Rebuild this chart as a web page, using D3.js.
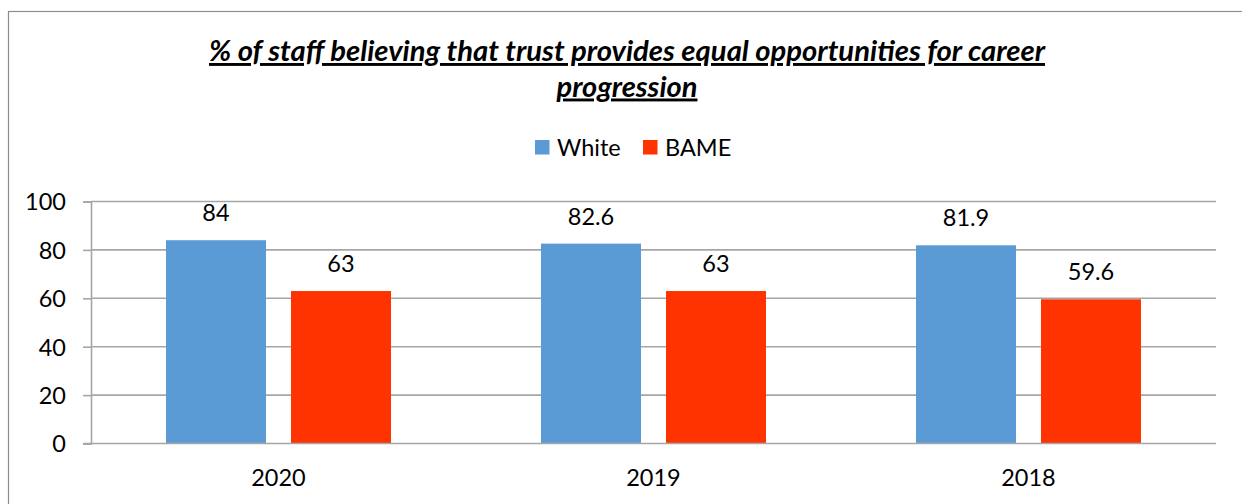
<!DOCTYPE html>
<html>
<head>
<meta charset="utf-8">
<script src="https://cdn.jsdelivr.net/npm/d3@7/dist/d3.min.js"></script>
<style>
  html, body { margin: 0; padding: 0; background: #fff; }
  svg { display: block; font-family: Lato, "Open Sans", sans-serif; }
</style>
</head>
<body>
<svg id="chart" width="1242" height="504"></svg>
<script>
// Survey years and the share of staff (%) in each group
const years = ["2020", "2019", "2018"];
const groups = ["White", "BAME"];
const whiteValues = [84, 82.6, 81.9];
const bameValues = [63, 63, 59.6];
const yTicks = [0, 20, 40, 60, 80, 100];
const titleLines = [
  "% of staff believing that trust provides equal opportunities for career",
  "progression"
];
const colors = { White: "#5b9bd5", BAME: "#ff3300" };

const rows = years.map((y, i) => ({ year: y, White: whiteValues[i], BAME: bameValues[i] }));

const svg = d3.select("#chart");
const W = 1242, H = 504;
const plot = { left: 91, right: 1216, top: 201.5, bottom: 443.5 };
const labelSize = 23.5;

// Outer frame of the chart
svg.append("rect")
  .attr("x", 8.5).attr("y", 11.5)
  .attr("width", W + 20).attr("height", H + 20)
  .attr("fill", "#fff").attr("stroke", "#8c8c8c").attr("stroke-width", 1.2);

// Title, bold italic and underlined; the second line sets the font size
const title = svg.append("g");
const titleTexts = titleLines.map((line, i) => title.append("text")
  .attr("x", 627).attr("y", [61, 96.5][i])
  .attr("text-anchor", "middle")
  .attr("font-size", 20).attr("font-weight", 700).attr("font-style", "italic")
  .attr("text-decoration", "underline")
  .attr("fill", "#000")
  .text(line));
const secondWidth = titleTexts[1].node().getComputedTextLength();
const titleSize = 20 * 141 / secondWidth;
titleTexts.forEach(t => t.attr("font-size", titleSize));
titleTexts[0].attr("textLength", 836).attr("lengthAdjust", "spacingAndGlyphs");

// Legend
const legend = svg.append("g");
const legendItems = [
  { key: "White", sx: 535, tx: 557 },
  { key: "BAME", sx: 643, tx: 665 }
];
legendItems.forEach(d => {
  legend.append("rect").attr("x", d.sx).attr("y", 140).attr("width", 14.5).attr("height", 14.5)
    .attr("fill", colors[d.key]);
  legend.append("text").attr("x", d.tx).attr("y", 155.5)
    .attr("font-size", labelSize).attr("fill", "#000").text(d.key);
});

// Scales
const x0 = d3.scaleBand().domain(years).range([plot.left, plot.right]).paddingInner(0.4).paddingOuter(0.2);
const x1 = d3.scaleBand().domain(groups).range([0, x0.bandwidth()]).paddingInner(0.2);
const y = d3.scaleLinear().domain([0, 100]).range([plot.bottom, plot.top]);

// Horizontal gridlines
svg.append("g")
  .selectAll("line").data(yTicks.filter(v => v > 0)).join("line")
  .attr("x1", plot.left).attr("x2", plot.right)
  .attr("y1", d => y(d)).attr("y2", d => y(d))
  .attr("stroke", "#a6a6a6").attr("stroke-width", 1.6);

// Y axis
const yAxis = svg.append("g")
  .attr("transform", `translate(${plot.left},0)`)
  .call(d3.axisLeft(y).tickValues(yTicks).tickSize(8).tickPadding(17).tickFormat(d3.format("d")));
yAxis.select(".domain").attr("stroke", "#a6a6a6").attr("stroke-width", 1.6);
yAxis.selectAll(".tick line").attr("stroke", "#a6a6a6").attr("stroke-width", 1.6);
yAxis.selectAll(".tick text").attr("font-size", labelSize).attr("fill", "#000")
  .attr("font-family", "Lato, sans-serif").attr("dy", "0.36em");

// Bars
const groupsG = svg.append("g").selectAll("g").data(rows).join("g")
  .attr("transform", d => `translate(${x0(d.year)},0)`);
groupsG.selectAll("rect")
  .data(d => groups.map(k => ({ key: k, value: d[k] })))
  .join("rect")
  .attr("x", d => x1(d.key))
  .attr("y", d => y(d.value))
  .attr("width", x1.bandwidth())
  .attr("height", d => y(0) - y(d.value))
  .attr("fill", d => colors[d.key]);

// Value labels
groupsG.selectAll("text.val")
  .data(d => groups.map(k => ({ key: k, value: d[k] })))
  .join("text")
  .attr("class", "val")
  .attr("x", d => x1(d.key) + x1.bandwidth() / 2)
  .attr("y", d => y(d.value) - 19)
  .attr("text-anchor", "middle")
  .attr("font-size", labelSize).attr("fill", "#000")
  .text(d => d.value);

// X axis baseline and category labels
const xAxis = svg.append("g")
  .attr("transform", `translate(0,${plot.bottom})`)
  .call(d3.axisBottom(x0).tickSize(0).tickPadding(26));
xAxis.select(".domain").remove();
xAxis.append("line").attr("x1", plot.left - 8).attr("x2", plot.right)
  .attr("stroke", "#a6a6a6").attr("stroke-width", 1.6);
xAxis.selectAll(".tick text").attr("font-size", labelSize).attr("fill", "#000")
  .attr("font-family", "Lato, sans-serif");
</script>
</body>
</html>
